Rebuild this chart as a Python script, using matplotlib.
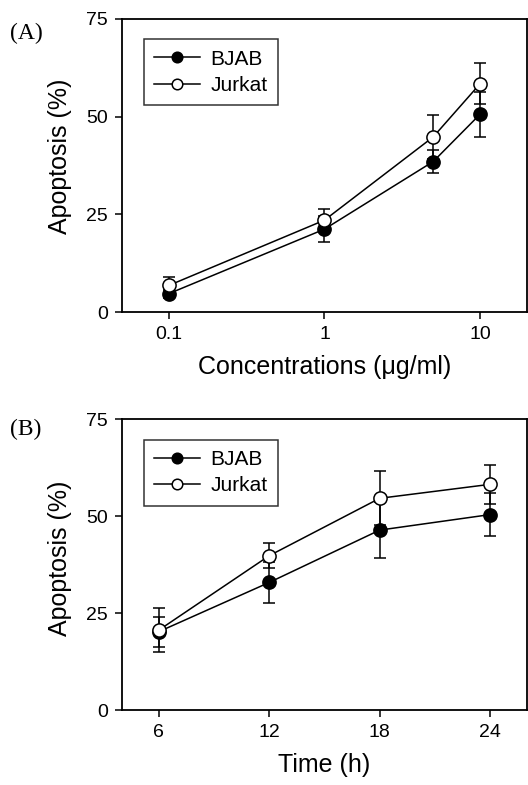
import matplotlib
matplotlib.use('Agg')
import matplotlib.pyplot as plt
import numpy as np

plt.rcParams['font.family'] = ['Liberation Sans', 'DejaVu Sans']

# panel A: concentration series
conc = [0.1, 1, 5, 10]
bjab_conc = [4.7, 21.2, 38.5, 50.6]
bjab_conc_err = [1.0, 3.4, 3.0, 5.7]
jurkat_conc = [6.8, 23.5, 44.8, 58.4]
jurkat_conc_err = [2.2, 2.8, 5.6, 5.2]

# panel B: time series
time_h = [6, 12, 18, 24]
bjab_time = [20.2, 32.9, 46.4, 50.4]
bjab_time_err = [3.9, 5.3, 7.3, 5.5]
jurkat_time = [20.6, 39.8, 54.6, 58.2]
jurkat_time_err = [5.7, 3.3, 7.0, 5.1]

y_ticks = [0, 25, 50, 75]


def draw_series(ax, x, bjab, bjab_err, jurkat, jurkat_err, label_y):
    bar_kw = dict(fmt='none', ecolor='black', capsize=4, capthick=1.1, elinewidth=1.1)
    ax.errorbar(x, bjab, yerr=bjab_err, zorder=2, **bar_kw)
    ax.errorbar(x, jurkat, yerr=jurkat_err, zorder=2, **bar_kw)
    line_kw = dict(color='black', lw=1.1, marker='o', markersize=9.5,
                   markeredgewidth=1.1, markeredgecolor='black')
    ax.plot(x, bjab, markerfacecolor='black', label='BJAB', zorder=3, **line_kw)
    ax.plot(x, jurkat, markerfacecolor='white', label='Jurkat', zorder=4, **line_kw)
    ax.set_ylim(0, 75)
    ax.set_yticks(y_ticks)
    ax.set_ylabel('Apoptosis (%)', fontsize=18)
    ax.yaxis.set_label_coords(-0.123, label_y)
    for s in ax.spines.values():
        s.set_linewidth(1.3)
    ax.tick_params(direction='out', length=5, width=1.1, labelsize=14,
                   top=False, right=False, pad=5)
    leg = ax.legend(loc='upper left', bbox_to_anchor=(0.054, 0.93), fontsize=15,
                    frameon=True, fancybox=False, edgecolor='black',
                    handlelength=2.2, handletextpad=0.5, borderpad=0.5,
                    labelspacing=0.35, borderaxespad=0, markerscale=0.8)
    leg.get_frame().set_linewidth(1.1)


fig = plt.figure(figsize=(5.28, 7.85), dpi=100)

ax1 = fig.add_axes([0.231, 0.6025, 0.767, 0.3735])
ax1.set_xscale('log')
draw_series(ax1, conc, bjab_conc, bjab_conc_err, jurkat_conc, jurkat_conc_err, 0.53)
ax1.set_xlim(0.05, 20)
ax1.set_xticks([0.1, 1, 10])
ax1.set_xticklabels(['0.1', '1', '10'])
ax1.xaxis.set_minor_locator(matplotlib.ticker.NullLocator())
ax1.set_xlabel('Concentrations (\u03bcg/ml)', fontsize=18, labelpad=9)

ax2 = fig.add_axes([0.231, 0.0955, 0.767, 0.3705])
draw_series(ax2, time_h, bjab_time, bjab_time_err, jurkat_time, jurkat_time_err, 0.52)
ax2.set_xlim(4, 26)
ax2.set_xticks(time_h)
ax2.set_xlabel('Time (h)', fontsize=18, labelpad=9)

fig.text(0.018, 0.958, '(A)', fontsize=17, family='Liberation Serif', va='center')
fig.text(0.018, 0.453, '(B)', fontsize=17, family='Liberation Serif', va='center')

fig.savefig('out.png', dpi=100)
